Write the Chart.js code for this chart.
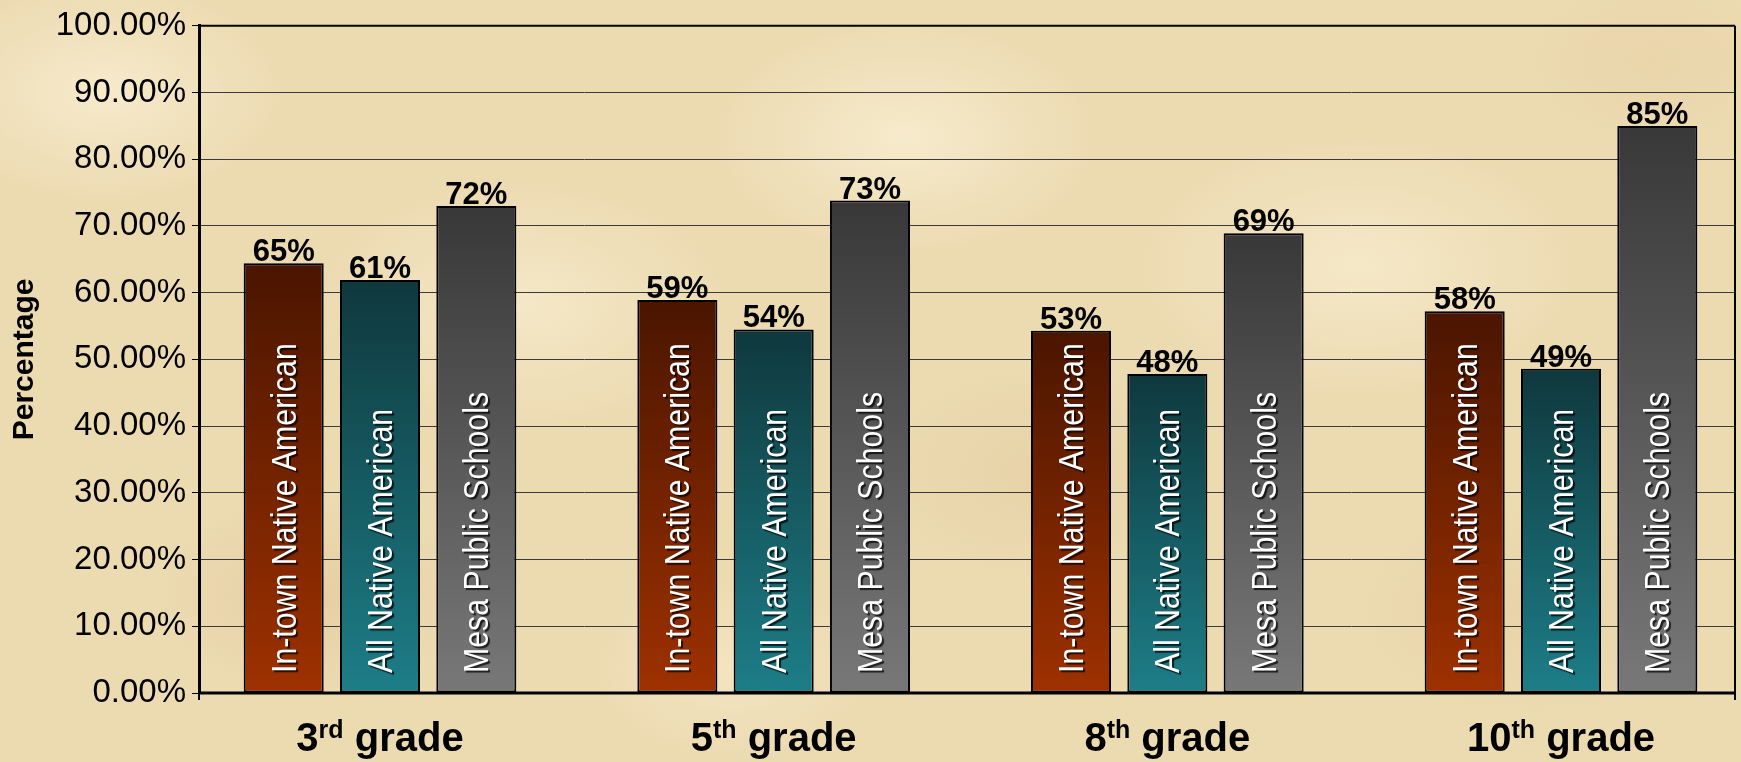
<!DOCTYPE html>
<html>
<head>
<meta charset="utf-8">
<title>Percentage by grade</title>
<script src="https://cdn.jsdelivr.net/npm/chart.js@4.4.1/dist/chart.umd.min.js"></script>
<style>
    html, body { margin: 0; padding: 0; }
    body {
        width: 1741px;
        height: 762px;
        overflow: hidden;
        background-color: #ecdab1;
        background-image:
            radial-gradient(ellipse 260px 160px at 6% 12%, rgba(250,240,212,0.75), transparent 70%),
            radial-gradient(ellipse 300px 180px at 30% 40%, rgba(248,238,208,0.7), transparent 70%),
            radial-gradient(ellipse 220px 140px at 18% 78%, rgba(226,200,152,0.6), transparent 70%),
            radial-gradient(ellipse 280px 170px at 52% 18%, rgba(250,242,215,0.7), transparent 70%),
            radial-gradient(ellipse 240px 150px at 60% 62%, rgba(228,204,158,0.55), transparent 70%),
            radial-gradient(ellipse 320px 190px at 78% 35%, rgba(249,239,210,0.7), transparent 70%),
            radial-gradient(ellipse 250px 150px at 88% 80%, rgba(230,206,160,0.55), transparent 70%),
            radial-gradient(ellipse 200px 130px at 42% 88%, rgba(247,236,205,0.6), transparent 70%),
            radial-gradient(ellipse 180px 120px at 95% 8%, rgba(232,208,163,0.5), transparent 70%);
    }
    #wrap { position: relative; width: 1741px; height: 762px; }
</style>
</head>
<body>
<div id="wrap"><canvas id="chart"></canvas></div>
<script>
const grades = ['3', '5', '8', '10']
const gradeSuffix = ['rd', 'th', 'th', 'th']
const seriesNames = ['In-town Native American', 'All Native American', 'Mesa Public Schools']

// percent values
const intown = [64.4, 58.9, 54.3, 57.2]
const allNative = [61.9, 54.5, 47.8, 48.6]
const mesa = [73.0, 73.8, 68.9, 85.0]

// labels as printed above the bars
const intownLabels = ['65%', '59%', '53%', '58%']
const allNativeLabels = ['61%', '54%', '48%', '49%']
const mesaLabels = ['72%', '73%', '69%', '85%']

const FONT = '"Liberation Sans", Arial, Helvetica, sans-serif'

function barGradient(top, bottom) {
    return (context) => {
        const chart = context.chart
        const area = chart.chartArea
        if (!area || context.type !== 'data' || !context.parsed) return bottom
        const y = chart.scales.y
        const y0 = y.getPixelForValue(context.parsed.y)
        const y1 = y.getPixelForValue(0)
        if (!isFinite(y0) || !isFinite(y1) || y0 === y1) return bottom
        const g = chart.ctx.createLinearGradient(0, y0, 0, y1)
        g.addColorStop(0, top)
        g.addColorStop(1, bottom)
        return g
    }
}

function points(values) {
    return values.map((v, i) => ({ x: i, y: v }))
}

const frame = {
    id: 'frame',
    beforeDatasetsDraw(chart) {
        const { ctx, chartArea: a } = chart
        ctx.save()
        ctx.strokeStyle = '#000'
        ctx.lineWidth = 2
        ctx.beginPath()
        ctx.moveTo(a.left, a.top)
        ctx.lineTo(a.right, a.top)
        ctx.moveTo(a.right, a.top)
        ctx.lineTo(a.right, a.bottom + 7)
        ctx.moveTo(a.left, a.bottom)
        ctx.lineTo(a.left, a.bottom + 7)
        ctx.stroke()
        ctx.lineWidth = 3
        ctx.beginPath()
        ctx.moveTo(a.left, a.bottom)
        ctx.lineTo(a.right, a.bottom)
        ctx.stroke()
        ctx.restore()
    }
}

const barText = {
    id: 'barText',
    afterDatasetsDraw(chart) {
        const ctx = chart.ctx
        const base = chart.scales.y.getPixelForValue(0)
        chart.data.datasets.forEach((ds, i) => {
            chart.getDatasetMeta(i).data.forEach((bar, j) => {
                ctx.save()
                ctx.font = 'bold 31px ' + FONT
                ctx.fillStyle = '#000'
                ctx.textAlign = 'center'
                ctx.textBaseline = 'alphabetic'
                ctx.fillText(ds.valueLabels[j], bar.x, bar.y - 2)
                ctx.restore()

                ctx.save()
                ctx.translate(bar.x, base - 20)
                ctx.rotate(-Math.PI / 2)
                ctx.scale(0.865, 1)
                ctx.font = '35px ' + FONT
                ctx.fillStyle = '#fff'
                ctx.textAlign = 'left'
                ctx.textBaseline = 'alphabetic'
                ctx.shadowColor = 'rgba(0,0,0,0.75)'
                ctx.shadowOffsetX = 2
                ctx.shadowOffsetY = 2
                ctx.shadowBlur = 1
                ctx.fillText(ds.label, 0, 12)
                ctx.restore()
            })
        })
    }
}

const gradeLabels = {
    id: 'gradeLabels',
    afterDraw(chart) {
        const { ctx, chartArea } = chart
        const xs = chart.scales.x
        const baseY = chartArea.bottom + 58
        const big = 'bold 40px ' + FONT
        const small = 'bold 25px ' + FONT
        ctx.save()
        ctx.fillStyle = '#000'
        ctx.textAlign = 'left'
        ctx.textBaseline = 'alphabetic'
        grades.forEach((g, i) => {
            const cx = xs.getPixelForValue(i)
            ctx.font = big
            const w1 = ctx.measureText(g).width
            const w3 = ctx.measureText(' grade').width
            ctx.font = small
            const w2 = ctx.measureText(gradeSuffix[i]).width
            let x = cx - (w1 + w2 + w3) / 2
            ctx.font = big
            ctx.fillText(g, x, baseY)
            x += w1
            ctx.font = small
            ctx.fillText(gradeSuffix[i], x, baseY - 13)
            x += w2
            ctx.font = big
            ctx.fillText(' grade', x, baseY)
        })
        ctx.restore()
    }
}

Chart.defaults.animation = false

new Chart(document.getElementById('chart'), {
    type: 'bar',
    data: {
        datasets: [
            {
                label: seriesNames[0],
                data: points(intown),
                valueLabels: intownLabels,
                backgroundColor: barGradient('#4a1500', '#9e3100'),
            },
            {
                label: seriesNames[1],
                data: points(allNative),
                valueLabels: allNativeLabels,
                backgroundColor: barGradient('#0f383d', '#1d7e88'),
            },
            {
                label: seriesNames[2],
                data: points(mesa),
                valueLabels: mesaLabels,
                backgroundColor: barGradient('#383838', '#787878'),
            },
        ]
    },
    options: {
        responsive: true,
        maintainAspectRatio: false,
        devicePixelRatio: 1,
        layout: {
            padding: { left: 0, right: 6, top: 22, bottom: 69 }
        },
        datasets: {
            bar: {
                borderColor: '#000',
                borderWidth: 2,
                borderSkipped: false,
                categoryPercentage: 0.734,
                barPercentage: 0.831,
            }
        },
        scales: {
            x: {
                type: 'linear',
                display: false,
                offset: false,
                grid: { offset: false },
                min: -0.4598,
                max: 3.442,
                afterBuildTicks: (scale) => {
                    scale.ticks = grades.map((g, i) => ({ value: i }))
                },
            },
            y: {
                min: 0,
                max: 100,
                ticks: {
                    stepSize: 10,
                    color: '#000',
                    padding: 6,
                    font: { family: FONT, size: 33 },
                    callback: (v) => v.toFixed(2) + '%',
                },
                grid: {
                    color: '#3a3a3a',
                    lineWidth: 1,
                    tickLength: 7,
                    tickColor: '#000',
                },
                border: {
                    color: '#000',
                    width: 3,
                },
                title: {
                    display: true,
                    text: 'Percentage',
                    color: '#000',
                    padding: { top: 7, bottom: 0 },
                    font: { family: FONT, size: 30, weight: 'bold' },
                },
                afterFit: (scale) => {
                    scale.width = 199
                },
            },
        },
        plugins: {
            legend: { display: false },
            title: { display: false },
            tooltip: { enabled: false },
        },
    },
    plugins: [frame, barText, gradeLabels],
})
</script>
</body>
</html>
